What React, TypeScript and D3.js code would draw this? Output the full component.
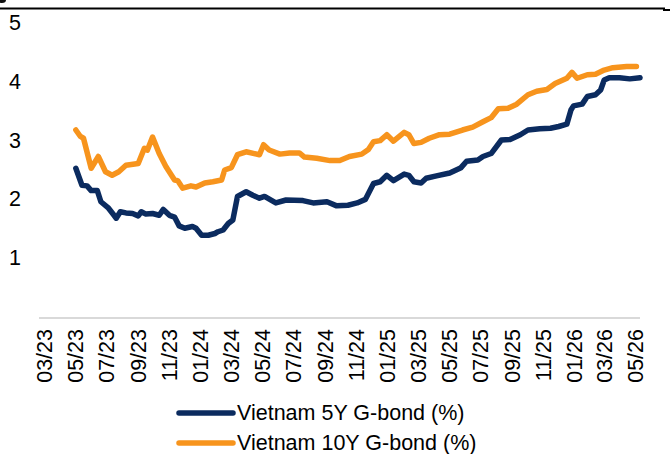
import React from 'react';
import * as d3 from 'd3';

// Vietnam 5Y G-bond yield (%)
const fiveYDates = [
  '2023-05-02', '2023-05-14', '2023-05-24', '2023-06-01', '2023-06-13', '2023-06-20', '2023-07-05',
  '2023-07-13', '2023-07-20', '2023-07-28', '2023-08-08', '2023-08-21', '2023-09-01', '2023-09-07',
  '2023-09-16', '2023-09-29', '2023-10-12', '2023-10-20', '2023-11-01', '2023-11-11', '2023-11-20',
  '2023-12-01', '2023-12-16', '2023-12-23', '2024-01-03', '2024-01-16', '2024-01-29', '2024-02-04',
  '2024-02-14', '2024-02-24', '2024-03-04', '2024-03-13', '2024-03-30', '2024-04-12', '2024-04-25',
  '2024-05-05', '2024-05-27', '2024-06-16', '2024-07-19', '2024-08-08', '2024-09-04', '2024-09-23',
  '2024-10-15', '2024-11-02', '2024-11-18', '2024-12-04', '2024-12-17', '2024-12-30', '2025-01-12',
  '2025-02-02', '2025-02-11', '2025-02-21', '2025-03-07', '2025-03-17', '2025-04-06', '2025-05-02',
  '2025-05-24', '2025-06-04', '2025-06-26', '2025-07-06', '2025-07-22', '2025-08-11', '2025-08-28',
  '2025-09-17', '2025-10-02', '2025-10-25', '2025-11-15', '2025-12-01', '2025-12-17', '2025-12-25',
  '2025-12-30', '2026-01-16', '2026-01-26', '2026-02-11', '2026-02-21', '2026-02-28', '2026-03-10',
  '2026-03-30', '2026-04-19', '2026-05-09',
];
const fiveYValues = [
  2.53, 2.24, 2.23, 2.15, 2.15, 1.96, 1.85,
  1.76, 1.68, 1.79, 1.77, 1.76, 1.72, 1.79,
  1.75, 1.76, 1.73, 1.83, 1.73, 1.70, 1.55,
  1.51, 1.54, 1.51, 1.39, 1.39, 1.42, 1.45,
  1.48, 1.59, 1.65, 2.05, 2.13, 2.07, 2.02,
  2.05, 1.94, 1.99, 1.98, 1.94, 1.96, 1.89,
  1.90, 1.94, 2.00, 2.27, 2.30, 2.41, 2.32,
  2.43, 2.41, 2.30, 2.28, 2.36, 2.40, 2.45,
  2.54, 2.65, 2.67, 2.73, 2.78, 3.01, 3.02,
  3.10, 3.18, 3.20, 3.21, 3.24, 3.28, 3.52,
  3.59, 3.62, 3.75, 3.78, 3.86, 4.03, 4.07,
  4.07, 4.05, 4.07,
];

// Vietnam 10Y G-bond yield (%)
const tenYDates = [
  '2023-05-02', '2023-05-11', '2023-05-17', '2023-06-01', '2023-06-15', '2023-06-29', '2023-07-12',
  '2023-07-25', '2023-08-08', '2023-09-01', '2023-09-13', '2023-09-19', '2023-09-29', '2023-10-12',
  '2023-10-25', '2023-11-11', '2023-11-17', '2023-11-27', '2023-12-13', '2023-12-23', '2024-01-09',
  '2024-01-25', '2024-02-11', '2024-02-17', '2024-03-01', '2024-03-13', '2024-03-30', '2024-04-25',
  '2024-05-03', '2024-05-14', '2024-06-04', '2024-06-23', '2024-07-12', '2024-07-22', '2024-08-15',
  '2024-09-10', '2024-09-29', '2024-10-18', '2024-11-11', '2024-11-24', '2024-12-04', '2024-12-17',
  '2024-12-30', '2025-01-12', '2025-02-02', '2025-02-11', '2025-02-21', '2025-03-07', '2025-03-23',
  '2025-04-12', '2025-05-02', '2025-05-27', '2025-06-16', '2025-07-06', '2025-07-22', '2025-08-05',
  '2025-08-24', '2025-09-10', '2025-10-02', '2025-10-19', '2025-11-08', '2025-11-24', '2025-12-17',
  '2025-12-27', '2026-01-06', '2026-01-26', '2026-02-11', '2026-02-28', '2026-03-17', '2026-04-13',
  '2026-05-02',
];
const tenYValues = [
  3.18, 3.07, 3.04, 2.53, 2.73, 2.47, 2.41,
  2.47, 2.58, 2.61, 2.87, 2.84, 3.06, 2.78,
  2.56, 2.33, 2.32, 2.19, 2.23, 2.21, 2.28,
  2.30, 2.33, 2.50, 2.54, 2.76, 2.81, 2.76,
  2.93, 2.84, 2.77, 2.79, 2.79, 2.72, 2.70,
  2.66, 2.66, 2.73, 2.77, 2.85, 2.98, 3.00,
  3.10, 2.99, 3.14, 3.10, 2.95, 2.97, 3.04,
  3.10, 3.11, 3.18, 3.23, 3.32, 3.39, 3.54,
  3.55, 3.62, 3.78, 3.84, 3.87, 3.97, 4.06,
  4.16, 4.06, 4.12, 4.13, 4.20, 4.24, 4.26,
  4.26,
];

const yTicks = [1, 2, 3, 4, 5];
const legendLabels = ['Vietnam 5Y G-bond (%)', 'Vietnam 10Y G-bond (%)'];
const seriesColors = ['#0b2b5f', '#f7941d'];

const W = 670;
const H = 454;
const FONT = 'Arial, "Liberation Sans", sans-serif';
const FS = 21.5;

export default function App() {
  const parse = d3.timeParse('%Y-%m-%d');
  const fmt = d3.timeFormat('%m/%y');

  const x = d3.scaleTime()
    .domain([parse('2023-02-19')!, parse('2026-05-09')!])
    .range([39, 640]);
  const y = d3.scaleLinear().domain([0, 5]).range([317, 23]);

  const xTicks = d3.timeMonth.every(2)!.range(parse('2023-03-01')!, parse('2026-05-02')!);

  const line = d3.line<[Date, number]>()
    .x(d => x(d[0]))
    .y(d => y(d[1]));

  const fiveY = fiveYDates.map((d, i) => [parse(d)!, fiveYValues[i]] as [Date, number]);
  const tenY = tenYDates.map((d, i) => [parse(d)!, tenYValues[i]] as [Date, number]);
  const series = [fiveY, tenY];

  const [x0, x1] = x.range();

  return (
    <svg width={W} height={H} style={{ position: 'absolute', left: 0, top: 0, background: '#fff' }}
      fontFamily={FONT}>
      {/* top rule and cut-off glyph from the page above */}
      <ellipse cx={2} cy={0} rx={4} ry={3} fill="#111" />
      <line x1={0} x2={665} y1={8.5} y2={8.5} stroke="#000" strokeWidth={2} />
      <rect x={663} y={9} width={7} height={2} fill="#000" />

      {/* y labels */}
      {yTicks.map(t => (
        <text key={t} x={21} y={y(t)} textAnchor="end" dominantBaseline="central"
          fontSize={FS} fill="#000">{t}</text>
      ))}

      {/* x axis */}
      <line x1={x0} x2={x1} y1={y(0) + 1} y2={y(0) + 1} stroke="#d9d9d9" strokeWidth={2} />
      {xTicks.map(t => (
        <text key={+t} transform={`translate(${x(t) + 7.5},${329}) rotate(-90)`}
          textAnchor="end" fontSize={FS} fill="#000">{fmt(t)}</text>
      ))}

      {/* series lines */}
      {series.slice().reverse().map((s, i) => (
        <path key={i} d={line(s) ?? ''} fill="none"
          stroke={seriesColors[series.length - 1 - i]} strokeWidth={5.5}
          strokeLinejoin="round" strokeLinecap="round" />
      ))}

      {/* legend */}
      {legendLabels.map((lab, i) => (
        <g key={lab} transform={`translate(0,${413 + i * 30})`}>
          <line x1={179} x2={233} y1={0} y2={0} stroke={seriesColors[i]} strokeWidth={5.5}
            strokeLinecap="round" />
          <text x={237} y={0} dominantBaseline="central" fontSize={FS} fill="#000">{lab}</text>
        </g>
      ))}
    </svg>
  );
}
